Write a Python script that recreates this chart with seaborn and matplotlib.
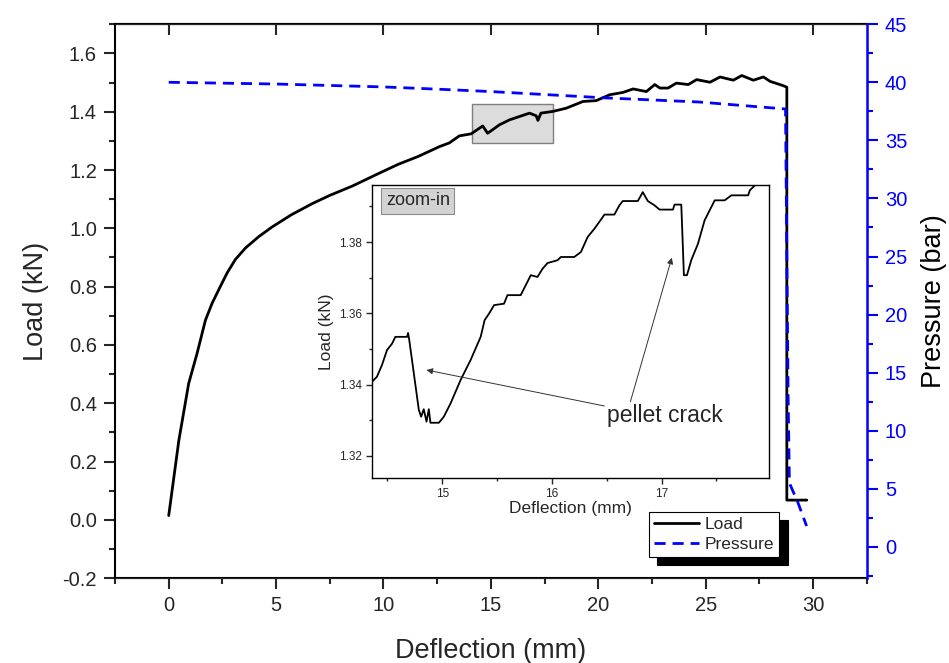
import numpy as np
import pandas as pd
import matplotlib
matplotlib.use('Agg')
import matplotlib.pyplot as plt
from matplotlib.patches import Rectangle
from matplotlib.ticker import MultipleLocator
import seaborn as sns

# load curve, full test (mm, kN)
load_defl = [0.0, 0.47, 0.93, 1.32, 1.71, 2.02, 2.40, 2.72, 3.10, 3.58, 4.20, 4.82, 5.70,
             6.69, 7.50, 8.55, 9.80, 10.7, 11.6, 12.6, 13.07, 13.53, 14.08, 14.62, 14.85,
             15.40, 15.87, 16.80, 17.11, 17.19, 17.33, 17.89, 18.51, 19.29, 19.91, 20.53,
             21.15, 21.62, 22.24, 22.63, 22.87, 23.25, 23.64, 24.19, 24.58, 25.20, 25.67,
             26.29, 26.68, 27.22, 27.69, 28.00, 28.62, 28.78, 28.78, 29.71]
load_kn = [0.015, 0.272, 0.468, 0.571, 0.685, 0.743, 0.800, 0.847, 0.893, 0.933, 0.972,
           1.005, 1.046, 1.085, 1.113, 1.145, 1.189, 1.220, 1.246, 1.280, 1.293, 1.317,
           1.324, 1.351, 1.326, 1.355, 1.372, 1.395, 1.386, 1.370, 1.395, 1.401, 1.412,
           1.435, 1.438, 1.458, 1.466, 1.478, 1.469, 1.493, 1.481, 1.481, 1.498, 1.493,
           1.510, 1.501, 1.519, 1.508, 1.524, 1.508, 1.519, 1.504, 1.489, 1.484, 0.068, 0.068]

# chamber pressure (mm, bar)
press_defl = [0.0, 5.0, 10.0, 12.6, 15.0, 20.4, 24.7, 28.72, 28.78, 28.84, 28.90, 29.3, 29.7]
press_bar = [40.0, 39.85, 39.6, 39.4, 39.2, 38.65, 38.3, 37.7, 25.0, 13.0, 5.5, 3.8, 1.8]

# zoom-in window (mm, kN)
zoom_defl = [14.360, 14.405, 14.451, 14.497, 14.543, 14.573, 14.680, 14.689, 14.698, 14.787,
             14.808, 14.832, 14.857, 14.878, 14.893, 14.970, 15.015, 15.076, 15.168, 15.259,
             15.351, 15.387, 15.427, 15.473, 15.564, 15.595, 15.716, 15.808, 15.869, 15.915,
             15.960, 16.052, 16.082, 16.204, 16.265, 16.326, 16.387, 16.448, 16.479, 16.570,
             16.616, 16.646, 16.784, 16.829, 16.875, 16.936, 16.982, 17.104, 17.119, 17.180,
             17.189, 17.204, 17.232, 17.271, 17.332, 17.393, 17.485, 17.576, 17.637, 17.790,
             17.805, 17.851, 17.881]
zoom_load = [1.3408, 1.3422, 1.3455, 1.3497, 1.3515, 1.3534, 1.3534, 1.3545, 1.3529, 1.3329,
             1.3310, 1.3331, 1.3296, 1.3331, 1.3293, 1.3293, 1.3310, 1.3347, 1.3413, 1.3469,
             1.3534, 1.3581, 1.3599, 1.3623, 1.3627, 1.3651, 1.3651, 1.3707, 1.3702, 1.3725,
             1.3741, 1.3749, 1.3758, 1.3758, 1.3772, 1.3814, 1.3837, 1.3863, 1.3877, 1.3877,
             1.3903, 1.3915, 1.3915, 1.3940, 1.3915, 1.3903, 1.3891, 1.3891, 1.3905, 1.3905,
             1.3833, 1.3707, 1.3707, 1.3749, 1.3795, 1.3861, 1.3917, 1.3917, 1.3931, 1.3931,
             1.3945, 1.3959, 1.3963]

# shaded window on the main curve and crack pointers (inset coords)
window_defl = [14.1, 17.9]
window_load = [1.293, 1.427]
crack_heads = [(14.857, 1.3441), (17.094, 1.3756)]
crack_tails = [(16.48, 1.3340), (16.716, 1.3352)]

sns.set_style('ticks')
plt.rcParams['font.family'] = ['Liberation Sans', 'DejaVu Sans']

fig = plt.figure(figsize=(9.49, 6.63), dpi=100)
ax = fig.add_axes([0.1212, 0.1278, 0.9133 - 0.1212, 0.9635 - 0.1278])
ax2 = ax.twinx()

df_load = pd.DataFrame({'defl': load_defl, 'load': load_kn})
df_press = pd.DataFrame({'defl': press_defl, 'press': press_bar})
df_zoom = pd.DataFrame({'defl': zoom_defl, 'load': zoom_load})

ax.add_patch(Rectangle((window_defl[0], window_load[0]), window_defl[1] - window_defl[0],
                       window_load[1] - window_load[0], facecolor='#dcdcdc',
                       edgecolor='#7f7f7f', lw=1.0, zorder=1))
sns.lineplot(data=df_load, x='defl', y='load', ax=ax, color='black', lw=2.0,
             sort=False, estimator=None, legend=False, zorder=3)
sns.lineplot(data=df_press, x='defl', y='press', ax=ax2, color='#0000ff', lw=2.0,
             sort=False, estimator=None, legend=False, dashes=False)
ax2.get_lines()[0].set_dashes((4, 2.5))

ax.set_xlim(-2.5, 32.5)
ax.set_ylim(-0.2, 1.7)
ax2.set_ylim(-2.7, 45)

ax.xaxis.set_major_locator(MultipleLocator(5))
ax.xaxis.set_minor_locator(MultipleLocator(2.5))
ax.yaxis.set_major_locator(MultipleLocator(0.2))
ax.yaxis.set_minor_locator(MultipleLocator(0.1))
ax.yaxis.set_major_formatter(matplotlib.ticker.FormatStrFormatter('%.1f'))
ax2.yaxis.set_major_locator(MultipleLocator(5))
ax2.yaxis.set_minor_locator(MultipleLocator(2.5))

ax.tick_params(which='major', direction='out', length=8, width=1.5, labelsize=14.5, pad=5)
ax.tick_params(which='minor', direction='out', length=4.5, width=1.5)
ax2.tick_params(which='major', direction='out', length=8, width=1.5, labelsize=14.5,
                colors='#0000ff', pad=5)
ax2.tick_params(which='minor', direction='out', length=4.5, width=1.5, colors='#0000ff')

top = ax.secondary_xaxis('top')
top.xaxis.set_major_locator(MultipleLocator(5))
top.tick_params(direction='in', length=8, width=1.5, labeltop=False)
top.spines['top'].set_linewidth(1.5)

for sp in ['left', 'bottom', 'top']:
    ax.spines[sp].set_linewidth(1.5)
    ax.spines[sp].set_color('black')
ax2.spines['right'].set_color('#0000ff')
ax2.spines['right'].set_linewidth(1.8)
ax.spines['right'].set_visible(False)
ax2.spines['left'].set_visible(False)

ax.set_xlabel('Deflection (mm)', fontsize=19.5, labelpad=16)
ax.set_ylabel('Load (kN)', fontsize=19.5, labelpad=10)
ax2.set_ylabel('Pressure (bar)', fontsize=19.5, labelpad=10, color='black')

# legend with a hard black drop shadow
handles = [ax.get_lines()[0], ax2.get_lines()[0]]
leg = ax2.legend(handles, ['Load', 'Pressure'], loc='lower left',
                 bbox_to_anchor=(0.684, 0.160), bbox_transform=fig.transFigure,
                 borderaxespad=0, fontsize=12.5, fancybox=False, framealpha=1,
                 edgecolor='black', handlelength=2.6, handletextpad=0.3,
                 borderpad=0.3, labelspacing=0.25,
                 shadow={'ox': 6, 'oy': -6, 'color': 'black', 'alpha': 1})
leg.get_frame().set_linewidth(0.8)

# inset
ax_in = fig.add_axes([372 / 949, 1 - 478 / 663, 397 / 949, 293 / 663])
ax_in.set_facecolor('white')
sns.lineplot(data=df_zoom, x='defl', y='load', ax=ax_in, color='black', lw=1.3,
             sort=False, estimator=None, legend=False)
ax_in.set_xlim(14.36, 17.98)
ax_in.set_ylim(1.3138, 1.396)
ax_in.xaxis.set_major_locator(MultipleLocator(1))
ax_in.xaxis.set_minor_locator(MultipleLocator(0.5))
ax_in.yaxis.set_major_locator(MultipleLocator(0.02))
ax_in.yaxis.set_minor_locator(MultipleLocator(0.01))
ax_in.tick_params(which='major', direction='out', length=4, width=1, labelsize=8.5, pad=3)
ax_in.tick_params(which='minor', direction='out', length=2.5, width=1)
for sp in ax_in.spines.values():
    sp.set_linewidth(1.0)
    sp.set_color('black')
ax_in.set_xlabel('Deflection (mm)', fontsize=12.5, labelpad=1)
ax_in.set_ylabel('Load (kN)', fontsize=12.5, labelpad=4)

ax_in.text(0.035, 0.975, 'zoom-in', transform=ax_in.transAxes, ha='left', va='top',
           fontsize=13, bbox=dict(boxstyle='square,pad=0.25', facecolor='#d3d3d3',
                                   edgecolor='#8c8c8c', lw=0.8))
for head, tail in zip(crack_heads, crack_tails):
    ax_in.annotate('', xy=head, xytext=tail,
                   arrowprops=dict(arrowstyle='-|>', color='#333333', lw=0.7,
                                   mutation_scale=9, shrinkA=0, shrinkB=0))
ax_in.text(17.03, 1.3312, 'pellet crack', ha='center', va='center', fontsize=16.5)

fig.savefig('out.png', dpi=100)
